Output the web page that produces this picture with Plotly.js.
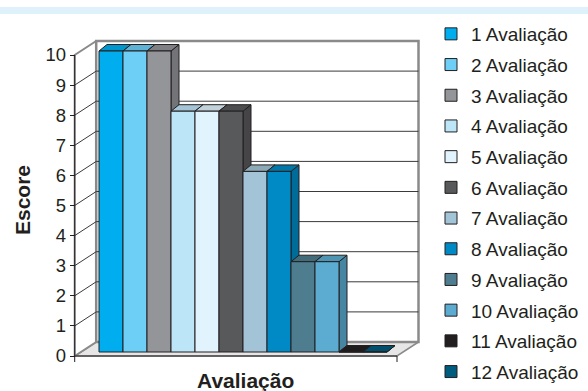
<!DOCTYPE html>
<html>
<head>
<meta charset="utf-8">
<script src="https://cdn.plot.ly/plotly-3.0.1.min.js"></script>
<style>html,body{margin:0;padding:0;background:#fff;}#chart{width:588px;height:391px;}</style>
</head>
<body>
<div id="chart"></div>
<script>
// ---- data ----
const categories = ['1 Avaliação','2 Avaliação','3 Avaliação','4 Avaliação','5 Avaliação','6 Avaliação',
                    '7 Avaliação','8 Avaliação','9 Avaliação','10 Avaliação','11 Avaliação','12 Avaliação'];
const scores = [10, 10, 10, 8, 8, 8, 6, 6, 3, 3, 0, 0];
const yTicks = [0,1,2,3,4,5,6,7,8,9,10];
const yTitle = 'Escore';
const xTitle = 'Avaliação';

// ---- styles ----
const colors = ['#00aeef','#6dcff6','#939598','#bde5f8','#e1f4fd','#58595b',
                '#a3c4d6','#008ac5','#4e7d8f','#5bacd0','#231f20','#005c7f'];
const FONT = 'Liberation Sans, Arial, Helvetica, sans-serif';
const INK = '#231f20';
const WALL = '#8a8a8a';

// ---- geometry (pixel scale of the 3D frame) ----
const W = 588, H = 391;
const X0 = 111, BW = 24;     // pixel centre of first bar, pixel width per category
const Y0 = 356, S = 30.1;    // pixel of front-plane zero, pixels per score unit
const xr = [(0 - X0) / BW, (W - X0) / BW];
const yr = [(Y0 - H) / S, Y0 / S];
const wdx = 21.5 / BW, wdy = 14 / S;       // wall depth
const bdx = 8 / BW, bdy = 6.5 / S;         // bar depth
const base = 4 / S;                        // bars sit a little behind the front plane
const xFront = (74.7 - X0) / BW;           // front axis
const xFloorR = (397 - X0) / BW;           // front right corner of floor
const yMax = yTicks[yTicks.length - 1];

function shade(hex, f) {
  const n = parseInt(hex.slice(1), 16);
  const r = Math.round(((n >> 16) & 255) * f), g = Math.round(((n >> 8) & 255) * f), b = Math.round((n & 255) * f);
  return 'rgb(' + r + ',' + g + ',' + b + ')';
}

const traces = [];
function poly(xs, ys, fill, line, lw) {
  traces.push({type:'scatter', mode:'lines', x: xs.concat([xs[0]]), y: ys.concat([ys[0]]),
    fill:'toself', fillcolor: fill, line:{color: line, width: lw}, hoverinfo:'skip', showlegend:false});
}
function lines(xs, ys, color, lw) {
  traces.push({type:'scatter', mode:'lines', x: xs, y: ys, line:{color: color, width: lw},
    hoverinfo:'skip', showlegend:false, connectgaps:false});
}

// floor
poly([xFront, xFloorR, xFloorR + wdx, xFront + wdx], [0, 0, wdy, wdy], '#e6e6e6', WALL, 1.5);
// left side wall
poly([xFront, xFront + wdx, xFront + wdx, xFront], [0, wdy, yMax + wdy, yMax], '#ffffff', WALL, 2);
// back wall
poly([xFront + wdx, xFloorR + wdx, xFloorR + wdx, xFront + wdx], [wdy, wdy, yMax + wdy, yMax + wdy], '#ffffff', WALL, 2.5);
// gridlines on back wall and side wall
(function(){
  const gx = [], gy = [], sx = [], sy = [];
  yTicks.forEach(v => {
    if (v === 0 || v === yMax) return;
    gx.push(xFront + wdx, xFloorR + wdx, null); gy.push(v + wdy, v + wdy, null);
    sx.push(xFront, xFront + wdx, null); sy.push(v, v + wdy, null);
  });
  lines(gx, gy, '#3a3a3a', 1);
  lines(sx, sy, '#3a3a3a', 1);
})();
// front edges (axis line, floor front edge, end ticks)
lines([xFront, xFront], [-6 / S, yMax], INK, 1);
lines([xFront, xFloorR, null, xFloorR, xFloorR], [0, 0, null, 0, -6 / S], INK, 1);

// side faces then top faces
scores.forEach((h, i) => {
  const R = i + 0.5;
  poly([R, R, R + bdx, R + bdx], [base, base + h, base + h + bdy, base + bdy], shade(colors[i], 0.78), INK, 1);
});
scores.forEach((h, i) => {
  const L = i - 0.5, R = i + 0.5, t = base + h;
  poly([L, R, R + bdx, L + bdx], [t, t, t + bdy, t + bdy], shade(colors[i], 0.86), INK, 1);
});

// front faces: real bars on an overlaid subplot (drawn above the faces)
scores.forEach((h, i) => {
  traces.push({type:'bar', name: categories[i], x:[i], y:[h], base: base, width: 1,
    xaxis:'x2', yaxis:'y2', legendgroup: 'g' + i,
    marker:{color: colors[i], line:{color: INK, width: 1}},
    hovertemplate: categories[i] + ': %{y}<extra></extra>'});
});

const layout = {
  width: W, height: H, autosize: false,
  margin: {l:0, r:0, t:0, b:0, pad:0},
  paper_bgcolor: '#ffffff', plot_bgcolor: 'rgba(0,0,0,0)',
  barmode: 'overlay',
  font: {family: FONT, color: INK, size: 18},
  xaxis: {range: xr, visible: false, fixedrange: true},
  yaxis: {range: yr, anchor: 'free', position: 74.7 / W, side: 'left',
          tickmode: 'array', tickvals: yTicks, ticktext: yTicks.map(String),
          ticks: 'outside', ticklen: 5, tickwidth: 1, tickcolor: INK,
          showgrid: false, zeroline: false, showline: false, automargin: false,
          tickfont: {family: FONT, size: 18.5, color: INK}, fixedrange: true},
  xaxis2: {range: xr, overlaying: 'x', visible: false, fixedrange: true},
  yaxis2: {range: yr, overlaying: 'y', visible: false, fixedrange: true},
  showlegend: true,
  legend: {x: 431 / W, xanchor: 'left', y: 1 - 31 / H, yanchor: 'top',
           font: {family: FONT, size: 19, color: INK}, tracegroupgap: 3,
           bgcolor: 'rgba(0,0,0,0)', borderwidth: 0, traceorder: 'grouped'},
  shapes: [{type:'rect', xref:'paper', yref:'paper', x0:0, x1:1, y0:1 - 14 / H, y1:1 - 7 / H,
            fillcolor:'#dff1fa', line:{width:0}, layer:'below'}],
  annotations: [
    {text: '<b>' + yTitle + '</b>', xref:'paper', yref:'paper', x: 22 / W, y: 1 - 200 / H,
     textangle: -90, showarrow: false, font: {family: FONT, size: 21, color: INK}, xanchor:'center', yanchor:'middle'},
    {text: '<b>' + xTitle + '</b>', xref:'paper', yref:'paper', x: 245 / W, y: 1 - 380 / H,
     showarrow: false, font: {family: FONT, size: 21, color: INK}, xanchor:'center', yanchor:'middle'}
  ]
};

Plotly.newPlot('chart', traces, layout, {displayModeBar: false, staticPlot: true});
</script>
</body>
</html>
